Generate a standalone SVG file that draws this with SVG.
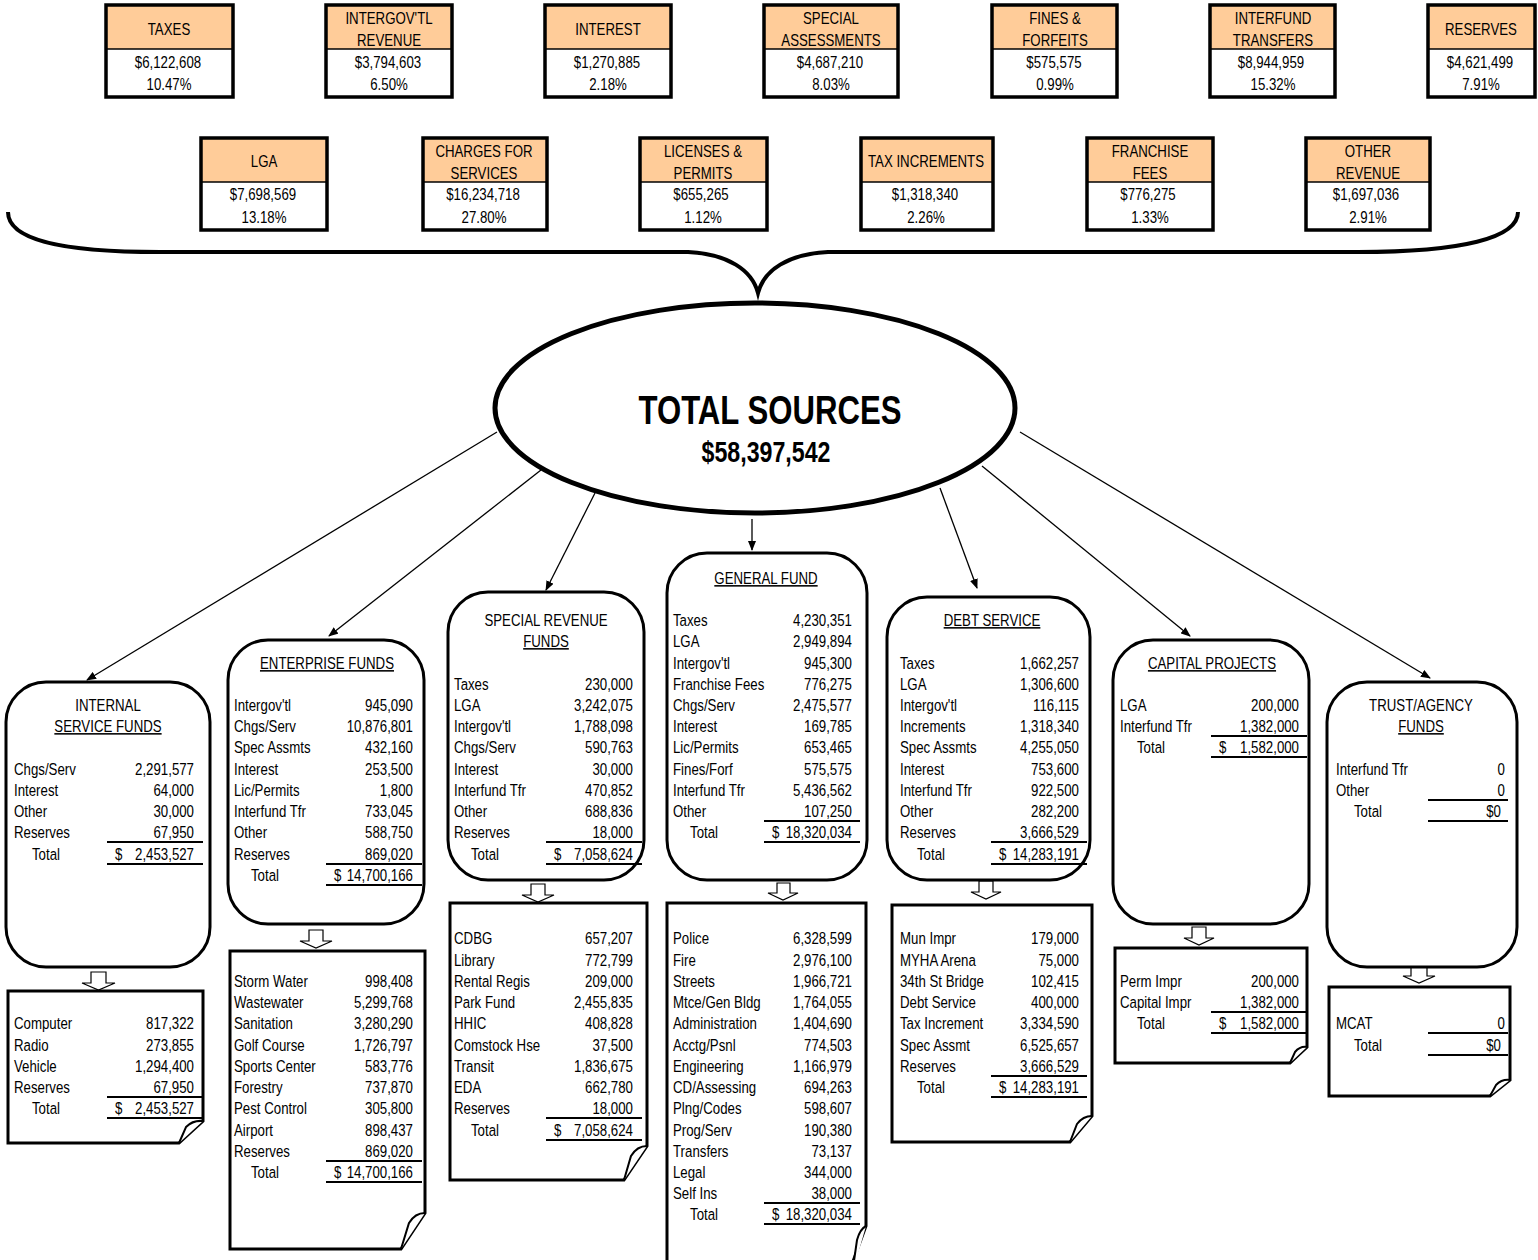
<svg xmlns="http://www.w3.org/2000/svg" width="1538" height="1260" viewBox="0 0 1538 1260">
<style>
text{font-family:"Liberation Sans Narrow","Arial Narrow","Liberation Sans",sans-serif;font-size:15.6px;fill:#000;transform-box:fill-box;transform-origin:0% 50%;transform:translate(0px,1px) scaleX(.85)}
.m{text-anchor:middle;transform-origin:50% 50%}
.r{text-anchor:end;transform-origin:100% 50%}
.u{text-decoration:underline}
.big{font-size:41px;font-weight:bold;transform:scaleX(.76)}
.big2{font-size:29px;font-weight:bold;transform:scaleX(.8)}
.src rect.b{fill:none;stroke:#000;stroke-width:3.5}
.src rect.h{fill:#FFCC99;stroke:none}
.src rect.w{fill:#fff;stroke:none}
.src line{stroke:#000;stroke-width:1.5}
.fund{fill:#fff;stroke:#000;stroke-width:3}
.doc{fill:#fff;stroke:#000;stroke-width:3;stroke-linejoin:miter}
.flap{fill:#fff;stroke:#000;stroke-width:2}
.ul{stroke:#000;stroke-width:2.2}
.ha{fill:#fff;stroke:#000;stroke-width:1.2}
.con{stroke:#000;stroke-width:1.3;fill:none}
</style>
<defs>
<marker id="ah" markerWidth="10" markerHeight="8" refX="9" refY="4" orient="auto" markerUnits="userSpaceOnUse">
<path d="M0,0 L10,4 L0,8 Z" fill="#000"/>
</marker>
</defs>

<!-- Source boxes row 1 -->
<g class="src" id="src-taxes"><rect class="w" x="106" y="5" width="127" height="92"/><rect class="h" x="106" y="5" width="127" height="44"/><rect class="b" x="106" y="5" width="127" height="92"/><line x1="106" y1="49" x2="233" y2="49"/><text class="m" x="169" y="34">TAXES</text><text class="m" x="168" y="67">$6,122,608</text><text class="m" x="169" y="89">10.47%</text></g>
<g class="src" id="src-intergov"><rect class="w" x="326" y="5" width="126" height="92"/><rect class="h" x="326" y="5" width="126" height="44"/><rect class="b" x="326" y="5" width="126" height="92"/><line x1="326" y1="49" x2="452" y2="49"/><text class="m" x="389" y="23">INTERGOV'TL</text><text class="m" x="389" y="45">REVENUE</text><text class="m" x="388" y="67">$3,794,603</text><text class="m" x="389" y="89">6.50%</text></g>
<g class="src" id="src-interest"><rect class="w" x="545" y="5" width="126" height="92"/><rect class="h" x="545" y="5" width="126" height="44"/><rect class="b" x="545" y="5" width="126" height="92"/><line x1="545" y1="49" x2="671" y2="49"/><text class="m" x="608" y="34">INTEREST</text><text class="m" x="607" y="67">$1,270,885</text><text class="m" x="608" y="89">2.18%</text></g>
<g class="src" id="src-special"><rect class="w" x="764" y="5" width="134" height="92"/><rect class="h" x="764" y="5" width="134" height="44"/><rect class="b" x="764" y="5" width="134" height="92"/><line x1="764" y1="49" x2="898" y2="49"/><text class="m" x="831" y="23">SPECIAL</text><text class="m" x="831" y="45">ASSESSMENTS</text><text class="m" x="830" y="67">$4,687,210</text><text class="m" x="831" y="89">8.03%</text></g>
<g class="src" id="src-fines"><rect class="w" x="992" y="5" width="125" height="92"/><rect class="h" x="992" y="5" width="125" height="44"/><rect class="b" x="992" y="5" width="125" height="92"/><line x1="992" y1="49" x2="1117" y2="49"/><text class="m" x="1055" y="23">FINES &amp;</text><text class="m" x="1055" y="45">FORFEITS</text><text class="m" x="1054" y="67">$575,575</text><text class="m" x="1055" y="89">0.99%</text></g>
<g class="src" id="src-interfund"><rect class="w" x="1210" y="5" width="125" height="92"/><rect class="h" x="1210" y="5" width="125" height="44"/><rect class="b" x="1210" y="5" width="125" height="92"/><line x1="1210" y1="49" x2="1335" y2="49"/><text class="m" x="1273" y="23">INTERFUND</text><text class="m" x="1273" y="45">TRANSFERS</text><text class="m" x="1271" y="67">$8,944,959</text><text class="m" x="1273" y="89">15.32%</text></g>
<g class="src" id="src-reserves"><rect class="w" x="1428" y="5" width="107" height="92"/><rect class="h" x="1428" y="5" width="107" height="44"/><rect class="b" x="1428" y="5" width="107" height="92"/><line x1="1428" y1="49" x2="1535" y2="49"/><text class="m" x="1481" y="34">RESERVES</text><text class="m" x="1480" y="67">$4,621,499</text><text class="m" x="1481" y="89">7.91%</text></g>

<!-- Source boxes row 2 -->
<g class="src" id="src-lga"><rect class="w" x="201" y="138" width="126" height="92"/><rect class="h" x="201" y="138" width="126" height="44"/><rect class="b" x="201" y="138" width="126" height="92"/><line x1="201" y1="182" x2="327" y2="182"/><text class="m" x="264" y="166">LGA</text><text class="m" x="263" y="199">$7,698,569</text><text class="m" x="264" y="222">13.18%</text></g>
<g class="src" id="src-charges"><rect class="w" x="423" y="138" width="124" height="92"/><rect class="h" x="423" y="138" width="124" height="44"/><rect class="b" x="423" y="138" width="124" height="92"/><line x1="423" y1="182" x2="547" y2="182"/><text class="m" x="484" y="156">CHARGES FOR</text><text class="m" x="484" y="178">SERVICES</text><text class="m" x="483" y="199">$16,234,718</text><text class="m" x="484" y="222">27.80%</text></g>
<g class="src" id="src-licenses"><rect class="w" x="640" y="138" width="127" height="92"/><rect class="h" x="640" y="138" width="127" height="44"/><rect class="b" x="640" y="138" width="127" height="92"/><line x1="640" y1="182" x2="767" y2="182"/><text class="m" x="703" y="156">LICENSES &amp;</text><text class="m" x="703" y="178">PERMITS</text><text class="m" x="701" y="199">$655,265</text><text class="m" x="703" y="222">1.12%</text></g>
<g class="src" id="src-taxinc"><rect class="w" x="861" y="138" width="132" height="92"/><rect class="h" x="861" y="138" width="132" height="44"/><rect class="b" x="861" y="138" width="132" height="92"/><line x1="861" y1="182" x2="993" y2="182"/><text class="m" x="926" y="166">TAX INCREMENTS</text><text class="m" x="925" y="199">$1,318,340</text><text class="m" x="926" y="222">2.26%</text></g>
<g class="src" id="src-franchise"><rect class="w" x="1087" y="138" width="126" height="92"/><rect class="h" x="1087" y="138" width="126" height="44"/><rect class="b" x="1087" y="138" width="126" height="92"/><line x1="1087" y1="182" x2="1213" y2="182"/><text class="m" x="1150" y="156">FRANCHISE</text><text class="m" x="1150" y="178">FEES</text><text class="m" x="1148" y="199">$776,275</text><text class="m" x="1150" y="222">1.33%</text></g>
<g class="src" id="src-other"><rect class="w" x="1306" y="138" width="124" height="92"/><rect class="h" x="1306" y="138" width="124" height="44"/><rect class="b" x="1306" y="138" width="124" height="92"/><line x1="1306" y1="182" x2="1430" y2="182"/><text class="m" x="1368" y="156">OTHER</text><text class="m" x="1368" y="178">REVENUE</text><text class="m" x="1366" y="199">$1,697,036</text><text class="m" x="1368" y="222">2.91%</text></g>

<!-- Brace -->
<g id="brace"><path d="M8,212 C8,238 55,252 160,252 L688,252 C728,254 752,270 758,293 C764,270 788,254 828,252 L1358,252 C1462,252 1518,238 1518,212" fill="none" stroke="#000" stroke-width="4"/></g>

<!-- Total sources -->
<g id="total">
<ellipse cx="755" cy="408" rx="260" ry="105" fill="#fff" stroke="#000" stroke-width="5"/>
<text class="m big" x="770" y="424">TOTAL SOURCES</text>
<text class="m big2" x="766" y="462">$58,397,542</text>
</g>

<!-- Connectors -->
<g id="connectors">
<line class="con" x1="497" y1="432" x2="87" y2="680" marker-end="url(#ah)"/>
<line class="con" x1="541" y1="470" x2="329" y2="636" marker-end="url(#ah)"/>
<line class="con" x1="595" y1="493" x2="546" y2="590" marker-end="url(#ah)"/>
<line class="con" x1="752" y1="519" x2="752" y2="550" marker-end="url(#ah)"/>
<line class="con" x1="940" y1="488" x2="977" y2="588" marker-end="url(#ah)"/>
<line class="con" x1="982" y1="466" x2="1190" y2="636" marker-end="url(#ah)"/>
<line class="con" x1="1020" y1="432" x2="1430" y2="678" marker-end="url(#ah)"/>
<polygon class="ha" points="91,972 106,972 106,983 115,983 98.5,990 82,983 91,983"/>
<polygon class="ha" points="309,930 323,930 323,941 332,941 316,948 300,941 309,941"/>
<polygon class="ha" points="531,884 545,884 545,895 554,895 538,902 522,895 531,895"/>
<polygon class="ha" points="777,883 790,883 790,893 798,893 783,900 768,893 777,893"/>
<polygon class="ha" points="979,881 993,881 993,892 1001,892 986,899 971,892 979,892"/>
<polygon class="ha" points="1192,927 1206,927 1206,938 1214,938 1199,945 1184,938 1192,938"/>
<polygon class="ha" points="1411,965 1427,965 1427,976 1435,976 1419,983 1403,976 1411,976"/>
</g>

<!-- Internal service funds -->
<g id="fund-internal">
<rect class="fund" x="6" y="682" width="204" height="285" rx="40" ry="40"/>
<text class="m" x="108" y="710">INTERNAL</text><text class="m u" x="108" y="731">SERVICE FUNDS</text>
<text x="14" y="774">Chgs/Serv</text><text class="r" x="194" y="774">2,291,577</text>
<text x="14" y="795">Interest</text><text class="r" x="194" y="795">64,000</text>
<text x="14" y="816">Other</text><text class="r" x="194" y="816">30,000</text>
<text x="14" y="837">Reserves</text><text class="r" x="194" y="837">67,950</text>
<text x="32" y="859">Total</text><text x="115" y="859">$</text><text class="r" x="194" y="859">2,453,527</text>
<line class="ul" x1="107" y1="842" x2="203" y2="842"/><line class="ul" x1="107" y1="864" x2="203" y2="864"/>
</g>
<g id="doc-internal">
<path class="doc" d="M8,991 H203 V1121 L179,1143 H8 Z"/>
<path class="flap" d="M179,1143 L186,1127 Q193,1120 203,1121"/>
<text x="14" y="1028">Computer</text><text class="r" x="194" y="1028">817,322</text>
<text x="14" y="1050">Radio</text><text class="r" x="194" y="1050">273,855</text>
<text x="14" y="1071">Vehicle</text><text class="r" x="194" y="1071">1,294,400</text>
<text x="14" y="1092">Reserves</text><text class="r" x="194" y="1092">67,950</text>
<text x="32" y="1113">Total</text><text x="115" y="1113">$</text><text class="r" x="194" y="1113">2,453,527</text>
<line class="ul" x1="107" y1="1097" x2="203" y2="1097"/><line class="ul" x1="107" y1="1118" x2="203" y2="1118"/>
</g>

<!-- Enterprise funds -->
<g id="fund-enterprise">
<rect class="fund" x="228" y="640" width="196" height="284" rx="40" ry="40"/>
<text class="m u" x="327" y="668">ENTERPRISE FUNDS</text>
<text x="234" y="710">Intergov'tl</text><text class="r" x="413" y="710">945,090</text>
<text x="234" y="731">Chgs/Serv</text><text class="r" x="413" y="731">10,876,801</text>
<text x="234" y="752">Spec Assmts</text><text class="r" x="413" y="752">432,160</text>
<text x="234" y="774">Interest</text><text class="r" x="413" y="774">253,500</text>
<text x="234" y="795">Lic/Permits</text><text class="r" x="413" y="795">1,800</text>
<text x="234" y="816">Interfund Tfr</text><text class="r" x="413" y="816">733,045</text>
<text x="234" y="837">Other</text><text class="r" x="413" y="837">588,750</text>
<text x="234" y="859">Reserves</text><text class="r" x="413" y="859">869,020</text>
<text x="251" y="880">Total</text><text x="334" y="880">$</text><text class="r" x="413" y="880">14,700,166</text>
<line class="ul" x1="326" y1="864" x2="422" y2="864"/><line class="ul" x1="326" y1="885" x2="422" y2="885"/>
</g>
<g id="doc-enterprise">
<path class="doc" d="M230,951 H425 V1213 L401,1249 H230 Z"/>
<path class="flap" d="M401,1249 L409,1223 Q415,1213 425,1213"/>
<text x="234" y="986">Storm Water</text><text class="r" x="413" y="986">998,408</text>
<text x="234" y="1007">Wastewater</text><text class="r" x="413" y="1007">5,299,768</text>
<text x="234" y="1028">Sanitation</text><text class="r" x="413" y="1028">3,280,290</text>
<text x="234" y="1050">Golf Course</text><text class="r" x="413" y="1050">1,726,797</text>
<text x="234" y="1071">Sports Center</text><text class="r" x="413" y="1071">583,776</text>
<text x="234" y="1092">Forestry</text><text class="r" x="413" y="1092">737,870</text>
<text x="234" y="1113">Pest Control</text><text class="r" x="413" y="1113">305,800</text>
<text x="234" y="1135">Airport</text><text class="r" x="413" y="1135">898,437</text>
<text x="234" y="1156">Reserves</text><text class="r" x="413" y="1156">869,020</text>
<text x="251" y="1177">Total</text><text x="334" y="1177">$</text><text class="r" x="413" y="1177">14,700,166</text>
<line class="ul" x1="326" y1="1161" x2="422" y2="1161"/><line class="ul" x1="326" y1="1182" x2="422" y2="1182"/>
</g>

<!-- Special revenue funds -->
<g id="fund-special">
<rect class="fund" x="448" y="592" width="196" height="288" rx="40" ry="40"/>
<text class="m" x="546" y="625">SPECIAL REVENUE</text><text class="m u" x="546" y="646">FUNDS</text>
<text x="454" y="689">Taxes</text><text class="r" x="633" y="689">230,000</text>
<text x="454" y="710">LGA</text><text class="r" x="633" y="710">3,242,075</text>
<text x="454" y="731">Intergov'tl</text><text class="r" x="633" y="731">1,788,098</text>
<text x="454" y="752">Chgs/Serv</text><text class="r" x="633" y="752">590,763</text>
<text x="454" y="774">Interest</text><text class="r" x="633" y="774">30,000</text>
<text x="454" y="795">Interfund Tfr</text><text class="r" x="633" y="795">470,852</text>
<text x="454" y="816">Other</text><text class="r" x="633" y="816">688,836</text>
<text x="454" y="837">Reserves</text><text class="r" x="633" y="837">18,000</text>
<text x="471" y="859">Total</text><text x="554" y="859">$</text><text class="r" x="633" y="859">7,058,624</text>
<line class="ul" x1="546" y1="842" x2="642" y2="842"/><line class="ul" x1="546" y1="864" x2="642" y2="864"/>
</g>
<g id="doc-special">
<path class="doc" d="M450,903 H647 V1146 L624,1180 H450 Z"/>
<path class="flap" d="M624,1180 L631,1156 Q637,1146 647,1146"/>
<text x="454" y="943">CDBG</text><text class="r" x="633" y="943">657,207</text>
<text x="454" y="965">Library</text><text class="r" x="633" y="965">772,799</text>
<text x="454" y="986">Rental Regis</text><text class="r" x="633" y="986">209,000</text>
<text x="454" y="1007">Park Fund</text><text class="r" x="633" y="1007">2,455,835</text>
<text x="454" y="1028">HHIC</text><text class="r" x="633" y="1028">408,828</text>
<text x="454" y="1050">Comstock Hse</text><text class="r" x="633" y="1050">37,500</text>
<text x="454" y="1071">Transit</text><text class="r" x="633" y="1071">1,836,675</text>
<text x="454" y="1092">EDA</text><text class="r" x="633" y="1092">662,780</text>
<text x="454" y="1113">Reserves</text><text class="r" x="633" y="1113">18,000</text>
<text x="471" y="1135">Total</text><text x="554" y="1135">$</text><text class="r" x="633" y="1135">7,058,624</text>
<line class="ul" x1="546" y1="1118" x2="642" y2="1118"/><line class="ul" x1="546" y1="1140" x2="642" y2="1140"/>
</g>

<!-- General fund -->
<g id="fund-general">
<rect class="fund" x="667" y="553" width="200" height="327" rx="40" ry="40"/>
<text class="m u" x="766" y="583">GENERAL FUND</text>
<text x="673" y="625">Taxes</text><text class="r" x="852" y="625">4,230,351</text>
<text x="673" y="646">LGA</text><text class="r" x="852" y="646">2,949,894</text>
<text x="673" y="668">Intergov'tl</text><text class="r" x="852" y="668">945,300</text>
<text x="673" y="689">Franchise Fees</text><text class="r" x="852" y="689">776,275</text>
<text x="673" y="710">Chgs/Serv</text><text class="r" x="852" y="710">2,475,577</text>
<text x="673" y="731">Interest</text><text class="r" x="852" y="731">169,785</text>
<text x="673" y="752">Lic/Permits</text><text class="r" x="852" y="752">653,465</text>
<text x="673" y="774">Fines/Forf</text><text class="r" x="852" y="774">575,575</text>
<text x="673" y="795">Interfund Tfr</text><text class="r" x="852" y="795">5,436,562</text>
<text x="673" y="816">Other</text><text class="r" x="852" y="816">107,250</text>
<text x="690" y="837">Total</text><text x="772" y="837">$</text><text class="r" x="852" y="837">18,320,034</text>
<line class="ul" x1="764" y1="821" x2="860" y2="821"/><line class="ul" x1="764" y1="842" x2="860" y2="842"/>
</g>
<g id="doc-general">
<path class="doc" d="M667,903 H866 V1226 L848,1275 H667 Z"/>
<path class="flap" d="M852,1275 L857,1240 Q860,1229 866,1226"/>
<text x="673" y="943">Police</text><text class="r" x="852" y="943">6,328,599</text>
<text x="673" y="965">Fire</text><text class="r" x="852" y="965">2,976,100</text>
<text x="673" y="986">Streets</text><text class="r" x="852" y="986">1,966,721</text>
<text x="673" y="1007">Mtce/Gen Bldg</text><text class="r" x="852" y="1007">1,764,055</text>
<text x="673" y="1028">Administration</text><text class="r" x="852" y="1028">1,404,690</text>
<text x="673" y="1050">Acctg/Psnl</text><text class="r" x="852" y="1050">774,503</text>
<text x="673" y="1071">Engineering</text><text class="r" x="852" y="1071">1,166,979</text>
<text x="673" y="1092">CD/Assessing</text><text class="r" x="852" y="1092">694,263</text>
<text x="673" y="1113">Plng/Codes</text><text class="r" x="852" y="1113">598,607</text>
<text x="673" y="1135">Prog/Serv</text><text class="r" x="852" y="1135">190,380</text>
<text x="673" y="1156">Transfers</text><text class="r" x="852" y="1156">73,137</text>
<text x="673" y="1177">Legal</text><text class="r" x="852" y="1177">344,000</text>
<text x="673" y="1198">Self Ins</text><text class="r" x="852" y="1198">38,000</text>
<text x="690" y="1219">Total</text><text x="772" y="1219">$</text><text class="r" x="852" y="1219">18,320,034</text>
<line class="ul" x1="764" y1="1203" x2="860" y2="1203"/><line class="ul" x1="764" y1="1224" x2="860" y2="1224"/>
</g>

<!-- Debt service -->
<g id="fund-debt">
<rect class="fund" x="887" y="597" width="203" height="283" rx="40" ry="40"/>
<text class="m u" x="992" y="625">DEBT SERVICE</text>
<text x="900" y="668">Taxes</text><text class="r" x="1079" y="668">1,662,257</text>
<text x="900" y="689">LGA</text><text class="r" x="1079" y="689">1,306,600</text>
<text x="900" y="710">Intergov'tl</text><text class="r" x="1079" y="710">116,115</text>
<text x="900" y="731">Increments</text><text class="r" x="1079" y="731">1,318,340</text>
<text x="900" y="752">Spec Assmts</text><text class="r" x="1079" y="752">4,255,050</text>
<text x="900" y="774">Interest</text><text class="r" x="1079" y="774">753,600</text>
<text x="900" y="795">Interfund Tfr</text><text class="r" x="1079" y="795">922,500</text>
<text x="900" y="816">Other</text><text class="r" x="1079" y="816">282,200</text>
<text x="900" y="837">Reserves</text><text class="r" x="1079" y="837">3,666,529</text>
<text x="917" y="859">Total</text><text x="999" y="859">$</text><text class="r" x="1079" y="859">14,283,191</text>
<line class="ul" x1="991" y1="842" x2="1087" y2="842"/><line class="ul" x1="991" y1="864" x2="1087" y2="864"/>
</g>
<g id="doc-debt">
<path class="doc" d="M892,905 H1092 V1116 L1070,1142 H892 Z"/>
<path class="flap" d="M1070,1142 L1077,1124 Q1083,1116 1092,1116"/>
<text x="900" y="943">Mun Impr</text><text class="r" x="1079" y="943">179,000</text>
<text x="900" y="965">MYHA Arena</text><text class="r" x="1079" y="965">75,000</text>
<text x="900" y="986">34th St Bridge</text><text class="r" x="1079" y="986">102,415</text>
<text x="900" y="1007">Debt Service</text><text class="r" x="1079" y="1007">400,000</text>
<text x="900" y="1028">Tax Increment</text><text class="r" x="1079" y="1028">3,334,590</text>
<text x="900" y="1050">Spec Assmt</text><text class="r" x="1079" y="1050">6,525,657</text>
<text x="900" y="1071">Reserves</text><text class="r" x="1079" y="1071">3,666,529</text>
<text x="917" y="1092">Total</text><text x="999" y="1092">$</text><text class="r" x="1079" y="1092">14,283,191</text>
<line class="ul" x1="991" y1="1076" x2="1087" y2="1076"/><line class="ul" x1="991" y1="1097" x2="1087" y2="1097"/>
</g>

<!-- Capital projects -->
<g id="fund-capital">
<rect class="fund" x="1113" y="640" width="196" height="284" rx="40" ry="40"/>
<text class="m u" x="1212" y="668">CAPITAL PROJECTS</text>
<text x="1120" y="710">LGA</text><text class="r" x="1299" y="710">200,000</text>
<text x="1120" y="731">Interfund Tfr</text><text class="r" x="1299" y="731">1,382,000</text>
<text x="1137" y="752">Total</text><text x="1219" y="752">$</text><text class="r" x="1299" y="752">1,582,000</text>
<line class="ul" x1="1211" y1="736" x2="1307" y2="736"/><line class="ul" x1="1211" y1="757" x2="1307" y2="757"/>
</g>
<g id="doc-capital">
<path class="doc" d="M1115,948 H1307 V1047 L1290,1063 H1115 Z"/>
<path class="flap" d="M1290,1063 L1295,1052 Q1300,1046 1307,1047"/>
<text x="1120" y="986">Perm Impr</text><text class="r" x="1299" y="986">200,000</text>
<text x="1120" y="1007">Capital Impr</text><text class="r" x="1299" y="1007">1,382,000</text>
<text x="1137" y="1028">Total</text><text x="1219" y="1028">$</text><text class="r" x="1299" y="1028">1,582,000</text>
<line class="ul" x1="1211" y1="1012" x2="1307" y2="1012"/><line class="ul" x1="1211" y1="1033" x2="1307" y2="1033"/>
</g>

<!-- Trust / agency -->
<g id="fund-trust">
<rect class="fund" x="1327" y="682" width="190" height="285" rx="40" ry="40"/>
<text class="m" x="1421" y="710">TRUST/AGENCY</text><text class="m u" x="1421" y="731">FUNDS</text>
<text x="1336" y="774">Interfund Tfr</text><text class="r" x="1505" y="774">0</text>
<text x="1336" y="795">Other</text><text class="r" x="1505" y="795">0</text>
<text x="1354" y="816">Total</text><text class="r" x="1501" y="816">$0</text>
<line class="ul" x1="1428" y1="800" x2="1508" y2="800"/><line class="ul" x1="1428" y1="821" x2="1508" y2="821"/>
</g>
<g id="doc-trust">
<path class="doc" d="M1329,987 H1510 V1080 L1490,1096 H1329 Z"/>
<path class="flap" d="M1490,1096 L1496,1085 Q1502,1079 1510,1080"/>
<text x="1336" y="1028">MCAT</text><text class="r" x="1505" y="1028">0</text>
<text x="1354" y="1050">Total</text><text class="r" x="1501" y="1050">$0</text>
<line class="ul" x1="1428" y1="1033" x2="1508" y2="1033"/><line class="ul" x1="1428" y1="1055" x2="1508" y2="1055"/>
</g>
</svg>
